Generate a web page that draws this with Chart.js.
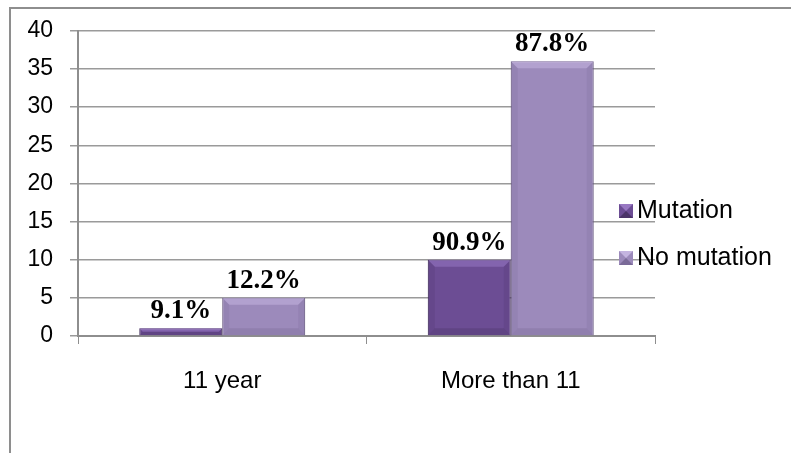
<!DOCTYPE html>
<html>
<head>
<meta charset="utf-8">
<script src="https://cdn.jsdelivr.net/npm/chart.js@4.4.1/dist/chart.umd.min.js"></script>
<style>
    html, body { margin: 0; padding: 0; background: #fff; }
    #wrap { width: 791px; height: 453px; position: relative; }
</style>
</head>
<body>
<div id="wrap"><canvas id="chart"></canvas></div>
<script>
const categories = ["11 year", "More than 11"];
const seriesNames = ["Mutation", "No mutation"];
const mutationValues = [1, 10];
const noMutationValues = [5, 36];
const mutationLabels = ["9.1%", "90.9%"];
const noMutationLabels = ["12.2%", "87.8%"];
const yTicks = [0, 5, 10, 15, 20, 25, 30, 35, 40];

const palette = [
    {main: "#6c4d94", light: "#9878c2", dark: "#4b3468", edge: "#3f2c58"},
    {main: "#9c8abb", light: "#c4b4e0", dark: "#7a6a98", edge: "#5f5177"}
];

// outer frame of the pasted chart (left and top edges only visible)
const framePlugin = {
    id: "frame",
    beforeDraw(chart) {
        const ctx = chart.ctx;
        ctx.save();
        ctx.fillStyle = "#fff";
        ctx.fillRect(0, 0, chart.width, chart.height);
        ctx.strokeStyle = "#8e8e8e";
        ctx.lineWidth = 2;
        ctx.beginPath();
        ctx.moveTo(10, chart.height);
        ctx.lineTo(10, 8);
        ctx.lineTo(chart.width, 8);
        ctx.stroke();
        ctx.restore();
    }
};

// bevel look of the office bars
const bevelPlugin = {
    id: "bevel",
    afterDatasetsDraw(chart) {
        const ctx = chart.ctx;
        chart.data.datasets.forEach((ds, i) => {
            const col = palette[i];
            chart.getDatasetMeta(i).data.forEach(bar => {
                const l = bar.x - bar.width / 2, r = bar.x + bar.width / 2;
                const t = bar.y, b = bar.base;
                const h = b - t;
                const e = Math.min(7, h / 2);
                ctx.save();
                ctx.globalAlpha = 0.55;
                ctx.fillStyle = col.light;
                ctx.beginPath();
                ctx.moveTo(l, t); ctx.lineTo(r, t); ctx.lineTo(r - e, t + e); ctx.lineTo(l + e, t + e);
                ctx.closePath(); ctx.fill();
                ctx.globalAlpha = 0.35;
                ctx.fillStyle = col.dark;
                ctx.beginPath();
                ctx.moveTo(l, b); ctx.lineTo(r, b); ctx.lineTo(r - e, b - e); ctx.lineTo(l + e, b - e);
                ctx.closePath(); ctx.fill();
                ctx.globalAlpha = 0.2;
                ctx.beginPath();
                ctx.moveTo(l, t); ctx.lineTo(l + e, t + e); ctx.lineTo(l + e, b - e); ctx.lineTo(l, b);
                ctx.closePath(); ctx.fill();
                ctx.beginPath();
                ctx.moveTo(r, t); ctx.lineTo(r - e, t + e); ctx.lineTo(r - e, b - e); ctx.lineTo(r, b);
                ctx.closePath(); ctx.fill();
                ctx.restore();
            });
        });
    }
};

const valueLabelPlugin = {
    id: "valueLabels",
    afterDatasetsDraw(chart) {
        const ctx = chart.ctx;
        const labels = [mutationLabels, noMutationLabels];
        ctx.save();
        ctx.font = "bold 27px 'Liberation Serif', 'Times New Roman', serif";
        ctx.fillStyle = "#000";
        ctx.textAlign = "center";
        ctx.textBaseline = "alphabetic";
        chart.data.datasets.forEach((ds, i) => {
            chart.getDatasetMeta(i).data.forEach((bar, j) => {
                ctx.fillText(labels[i][j], bar.x, bar.y - 10);
            });
        });
        ctx.restore();
    }
};

const legendPlugin = {
    id: "sideLegend",
    afterDraw(chart) {
        const ctx = chart.ctx;
        const ys = [211, 258];
        ctx.save();
        ctx.font = "25px 'Liberation Sans', Arial, sans-serif";
        ctx.textBaseline = "middle";
        seriesNames.forEach((name, i) => {
            const col = palette[i];
            const x = 619, y = ys[i] - 7, s = 14;
            ctx.fillStyle = col.main;
            ctx.fillRect(x, y, s, s);
            ctx.fillStyle = col.light;
            ctx.beginPath();
            ctx.moveTo(x, y); ctx.lineTo(x + s, y); ctx.lineTo(x + s / 2, y + s / 2);
            ctx.closePath(); ctx.fill();
            ctx.fillStyle = col.dark;
            ctx.beginPath();
            ctx.moveTo(x, y + s); ctx.lineTo(x + s, y + s); ctx.lineTo(x + s / 2, y + s / 2);
            ctx.closePath(); ctx.fill();
            ctx.fillStyle = "#000";
            ctx.fillText(name, 637, ys[i]);
        });
        ctx.restore();
    }
};

new Chart(document.getElementById("chart"), {
    type: "bar",
    data: {
        labels: categories,
        datasets: [
            {
                label: seriesNames[0],
                data: mutationValues,
                backgroundColor: palette[0].main,
                borderColor: palette[0].edge,
                borderWidth: 1
            },
            {
                label: seriesNames[1],
                data: noMutationValues,
                backgroundColor: palette[1].main,
                borderColor: palette[1].edge,
                borderWidth: 1
            }
        ]
    },
    options: {
        responsive: true,
        maintainAspectRatio: false,
        animation: false,
        layout: {padding: {top: 26, right: 136, bottom: 0, left: 0}},
        plugins: {
            legend: {display: false},
            tooltip: {enabled: false}
        },
        datasets: {
            bar: {categoryPercentage: 0.575, barPercentage: 1}
        },
        scales: {
            x: {
                grid: {
                    offset: true,
                    drawOnChartArea: false,
                    drawTicks: true,
                    tickLength: 8,
                    color: "#8e8e8e"
                },
                border: {color: "#8e8e8e", width: 2},
                ticks: {color: "#000", font: {family: "'Liberation Sans', Arial, sans-serif", size: 24}, padding: 23},
                afterFit(scale) { scale.height = 117; }
            },
            y: {
                min: 0,
                max: 40,
                afterBuildTicks(scale) { scale.ticks = yTicks.map(v => ({value: v})); },
                grid: {color: "#9a9a9a", lineWidth: 1.5, tickLength: 8},
                border: {color: "#8e8e8e", width: 2},
                ticks: {color: "#000", font: {family: "'Liberation Sans', Arial, sans-serif", size: 23}, padding: 17},
                afterFit(scale) { scale.width = 78; }
            }
        }
    },
    plugins: [framePlugin, bevelPlugin, valueLabelPlugin, legendPlugin]
});
</script>
</body>
</html>
